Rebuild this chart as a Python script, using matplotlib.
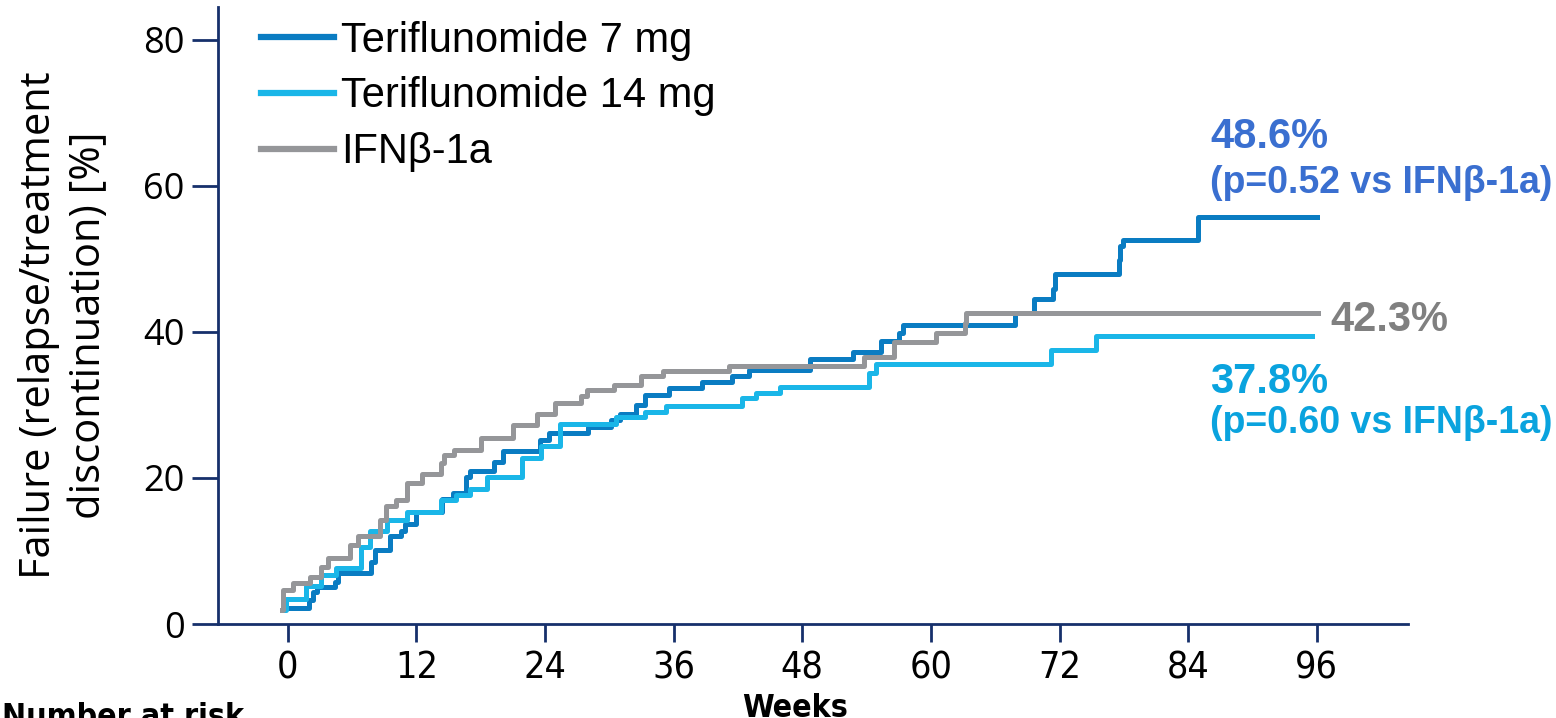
import matplotlib
matplotlib.use('Agg')
import matplotlib.pyplot as plt
from matplotlib import font_manager

# step curves (weeks, cumulative failure %)
t7_weeks = [-0.4, 2.0, 2.4, 2.7, 4.4, 4.7, 7.8, 8.1, 9.5, 10.6, 10.9, 12.0, 14.4, 15.4,
            16.6, 17.0, 19.2, 20.1, 23.5, 24.4, 28.0, 30.2, 31.0, 32.5, 33.3, 35.6, 38.6,
            41.4, 43.0, 48.7, 52.7, 55.3, 57.0, 57.4, 67.8, 69.6, 71.4, 71.6, 77.5, 77.6,
            77.9, 84.9, 96.0]
t7_pct = [2.2, 3.3, 4.4, 5.1, 5.8, 7.0, 8.5, 10.1, 12.0, 12.8, 13.7, 15.4, 17.1, 18.0,
          20.2, 20.9, 22.2, 23.7, 25.2, 26.1, 27.0, 28.0, 28.8, 30.0, 31.4, 32.3, 33.2,
          33.9, 34.8, 36.3, 37.3, 38.7, 39.8, 41.0, 42.6, 44.5, 45.9, 48.0, 49.8, 51.8,
          52.6, 55.8, 55.8]

t14_weeks = [-0.5, -0.2, 1.7, 3.1, 4.5, 6.8, 7.7, 9.3, 11.1, 14.3, 15.7, 17.0, 18.6,
             21.9, 23.6, 25.4, 30.6, 33.3, 35.3, 42.4, 43.7, 45.9, 54.2, 54.9, 71.2,
             75.4, 95.5]
t14_pct = [1.9, 3.4, 5.2, 6.7, 7.7, 10.6, 12.8, 14.2, 15.4, 17.0, 17.7, 18.5, 20.2,
           22.7, 24.4, 27.4, 28.4, 29.0, 29.8, 30.9, 31.6, 32.4, 34.4, 35.6, 37.5,
           39.4, 39.4]

ifn_weeks = [-0.5, -0.4, 0.5, 2.1, 3.1, 3.8, 5.8, 6.6, 8.6, 9.2, 10.1, 11.1, 12.5,
             14.3, 14.6, 15.5, 18.0, 21.0, 23.3, 24.9, 27.4, 27.9, 30.4, 33.0, 35.0,
             41.2, 53.8, 56.6, 60.5, 63.2, 63.3, 96.1]
ifn_pct = [1.9, 4.7, 5.6, 6.5, 7.8, 9.0, 10.8, 12.0, 14.2, 16.1, 17.0, 19.3, 20.6,
           22.0, 23.2, 23.8, 25.5, 27.3, 28.8, 30.2, 31.2, 32.0, 32.8, 33.9, 34.7,
           35.4, 36.5, 38.6, 39.8, 41.2, 42.6, 42.6]

labels = ['Teriflunomide 7 mg', 'Teriflunomide 14 mg', 'IFNβ-1a']
colors = ['#0a7cc2', '#1ab6e8', '#959699']
x_ticks = [0, 12, 24, 36, 48, 60, 72, 84, 96]
y_ticks = [0, 20, 40, 60, 80]

names = {f.name for f in font_manager.fontManager.ttflist}
narrow = 'Liberation Sans Narrow' if 'Liberation Sans Narrow' in names else 'DejaVu Sans'
sans = 'Open Sans' if 'Open Sans' in names else 'DejaVu Sans'
arial = 'Liberation Sans'
navy = '#16306b'

fig = plt.figure(figsize=(15.56, 7.18), dpi=100)
ax = fig.add_axes([218 / 1556, 1 - 624 / 718, 1190 / 1556, 617 / 718])

for w, p, lab, c in zip([t7_weeks, t14_weeks, ifn_weeks], [t7_pct, t14_pct, ifn_pct],
                        labels, colors):
    ax.plot(w, p, drawstyle='steps-post', color=c, lw=3.6, label=lab)

ax.set_xlim(-6.5, 104.5)
ax.set_ylim(0, 84.5)
ax.set_xticks(x_ticks)
ax.set_yticks(y_ticks)
for s in ['top', 'right']:
    ax.spines[s].set_visible(False)
for s in ['left', 'bottom']:
    ax.spines[s].set_color(navy)
    ax.spines[s].set_linewidth(2)
ax.tick_params(axis='x', length=13, width=2, color=navy, pad=6)
ax.tick_params(axis='y', length=19, width=2, color=navy, pad=5)
for t in ax.get_xticklabels():
    t.set_fontfamily(narrow)
    t.set_fontstretch('condensed')
    t.set_fontsize(27)
for t in ax.get_yticklabels():
    t.set_fontfamily(sans)
    t.set_fontsize(26)

leg = ax.legend(loc='upper left', bbox_to_anchor=(0.036, 0.978), frameon=False,
                prop={'family': arial, 'size': 30}, handlelength=1.75,
                handletextpad=0.18, labelspacing=0.38, borderpad=0, borderaxespad=0)
for h in leg.get_lines():
    h.set_linewidth(4.5)

fig.text(64 / 1556, 1 - 325 / 718, 'Failure (relapse/treatment\ndiscontinuation) [%]',
         rotation=90, ha='center', va='center', fontsize=30, family=sans,
         linespacing=1.25)

fig.text(1210 / 1556, 1 - 148 / 718, '48.6%', color='#3a6fd0', fontsize=30,
         fontweight='bold', family=arial, va='baseline')
fig.text(1210 / 1556, 1 - 193 / 718, '(p=0.52 vs IFNβ-1a)', color='#3a6fd0', fontsize=27,
         fontweight='bold', family=arial, va='baseline')
fig.text(1330 / 1556, 1 - 331 / 718, '42.3%', color='#808080', fontsize=30,
         fontweight='bold', family=arial, va='baseline')
fig.text(1210 / 1556, 1 - 393 / 718, '37.8%', color='#0aa3de', fontsize=30,
         fontweight='bold', family=arial, va='baseline')
fig.text(1210 / 1556, 1 - 433 / 718, '(p=0.60 vs IFNβ-1a)', color='#0aa3de', fontsize=27,
         fontweight='bold', family=arial, va='baseline')

fig.text(795 / 1556, 1 - 693 / 718, 'Weeks', ha='center', va='top', fontsize=23,
         fontweight='bold', family=narrow, fontstretch='condensed')
fig.text(2 / 1556, 1 - 702 / 718, 'Number at risk', ha='left', va='top', fontsize=23,
         fontweight='bold', family=narrow, fontstretch='condensed')

fig.savefig('out.png', dpi=100)
